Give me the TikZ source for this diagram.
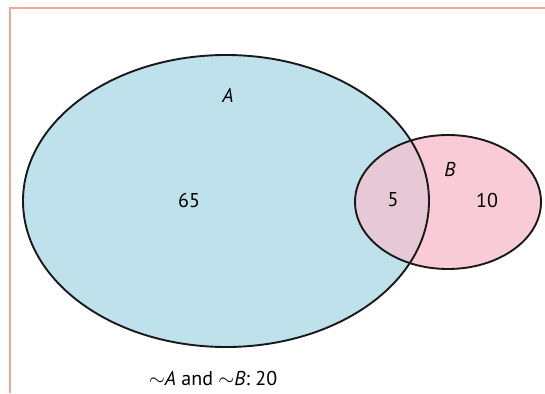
\documentclass[tikz,border=0pt]{standalone}
\usepackage{fontspec}
\setmainfont{PT Sans}
\definecolor{setA}{RGB}{191,225,235}
\definecolor{setB}{RGB}{248,203,215}
\definecolor{setAB}{RGB}{231,201,214}
\definecolor{frame}{RGB}{245,165,150}
\begin{document}
\begin{tikzpicture}[x=1pt,y=-1pt,
    lbl/.style={font=\fontsize{20}{23}\selectfont, inner sep=0pt},
    rim/.style={line width=1.9pt, black!90}]
  \useasboundingbox (0,0) rectangle (545,393);
  % frame
  \draw[frame, line width=2.6pt] (10,393) -- (10,8) -- (545,8);
  % the two sets
  \coordinate (cA) at (226,201);
  \coordinate (cB) at (448,202);
  \fill[setA] (cA) ellipse [x radius=203, y radius=146];
  \fill[setB] (cB) ellipse [x radius=93, y radius=67];
  \begin{scope}
    \clip (cA) ellipse [x radius=203, y radius=146];
    \fill[setAB] (cB) ellipse [x radius=93, y radius=67];
  \end{scope}
  \draw[rim] (cA) ellipse [x radius=203, y radius=146];
  \draw[rim] (cB) ellipse [x radius=93, y radius=67];
  % labels
  \node[lbl] (nameA) at (228,95) {\textit{A}};
  \node[lbl] (nameB) at (450,169) {\textit{B}};
  \node[lbl] (onlyA) at (189,200) {65};
  \node[lbl] (both) at (393,200) {5};
  \node[lbl] (onlyB) at (487,200) {10};
  \node[lbl] (none) at (213,378) {$\sim$\textit{A} and $\sim$\textit{B}: 20};
\end{tikzpicture}
\end{document}
